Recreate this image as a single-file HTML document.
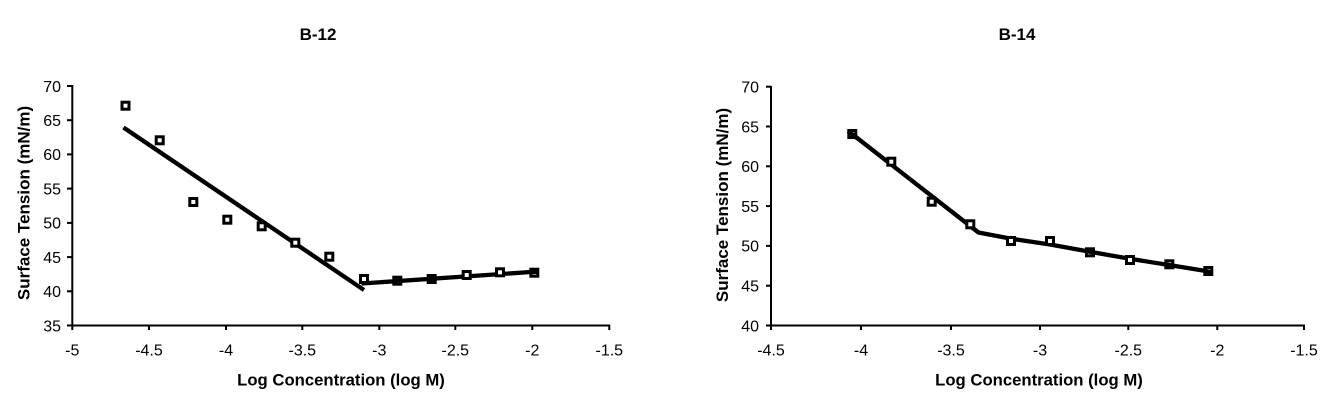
<!DOCTYPE html>
<html>
<head>
<meta charset="utf-8">
<style>
html,body{margin:0;padding:0;background:#fff;}
svg{display:block;}
text{font-family:"Liberation Sans",Arial,sans-serif;fill:#000;}
.tk{font-size:16px;}
.tt{font-size:17px;font-weight:bold;}
.ax{font-size:16.7px;font-weight:bold;}
.ay{font-size:17px;font-weight:bold;}
</style>
</head>
<body>
<svg width="1342" height="403" viewBox="0 0 1342 403" xmlns="http://www.w3.org/2000/svg">
<rect width="1342" height="403" fill="#fff"/>

<!-- ===== LEFT CHART B-12 ===== -->
<text class="tt" x="318" y="40" text-anchor="middle">B-12</text>
<g stroke="#000" stroke-width="2" fill="none">
  <line x1="72.3" y1="85" x2="72.3" y2="326"/>
  <line x1="71.3" y1="325.5" x2="610" y2="325.5"/>
  <line x1="67" y1="86" x2="72" y2="86"/>
  <line x1="67" y1="120.2" x2="72" y2="120.2"/>
  <line x1="67" y1="154.4" x2="72" y2="154.4"/>
  <line x1="67" y1="188.6" x2="72" y2="188.6"/>
  <line x1="67" y1="222.9" x2="72" y2="222.9"/>
  <line x1="67" y1="257.1" x2="72" y2="257.1"/>
  <line x1="67" y1="291.3" x2="72" y2="291.3"/>
  <line x1="67" y1="325.5" x2="72" y2="325.5"/>
  <line x1="72.3" y1="325" x2="72.3" y2="330"/>
  <line x1="149" y1="325" x2="149" y2="330"/>
  <line x1="226" y1="325" x2="226" y2="330"/>
  <line x1="302.3" y1="325" x2="302.3" y2="330"/>
  <line x1="379.3" y1="325" x2="379.3" y2="330"/>
  <line x1="455.3" y1="325" x2="455.3" y2="330"/>
  <line x1="532.3" y1="325" x2="532.3" y2="330"/>
  <line x1="609.3" y1="325" x2="609.3" y2="330"/>
</g>
<g text-anchor="end">
  <text class="tk" x="61" y="91.8">70</text>
  <text class="tk" x="61" y="126">65</text>
  <text class="tk" x="61" y="160.2">60</text>
  <text class="tk" x="61" y="194.4">55</text>
  <text class="tk" x="61" y="228.7">50</text>
  <text class="tk" x="61" y="262.9">45</text>
  <text class="tk" x="61" y="297.1">40</text>
  <text class="tk" x="61" y="331.3">35</text>
</g>
<g text-anchor="middle">
  <text class="tk" x="72.3" y="355.5">-5</text>
  <text class="tk" x="149" y="355.5">-4.5</text>
  <text class="tk" x="226" y="355.5">-4</text>
  <text class="tk" x="302.3" y="355.5">-3.5</text>
  <text class="tk" x="379.3" y="355.5">-3</text>
  <text class="tk" x="455.3" y="355.5">-2.5</text>
  <text class="tk" x="532.3" y="355.5">-2</text>
  <text class="tk" x="609.3" y="355.5">-1.5</text>
</g>
<text class="ax" x="341" y="385.5" text-anchor="middle">Log Concentration (log M)</text>
<text class="ay" transform="translate(29.5,203) rotate(-90)" text-anchor="middle">Surface Tension (mN/m)</text>

<g stroke="#000" stroke-width="4.3" fill="none">
  <line x1="123.5" y1="127.5" x2="364" y2="290"/>
  <line x1="361.5" y1="283.5" x2="538" y2="271.5"/>
</g>
<g stroke="#000" stroke-width="3" fill="#fff">
  <rect x="122" y="102.2" width="7" height="7"/>
  <rect x="156.2" y="136.8" width="7" height="7"/>
  <rect x="189.8" y="198.5" width="7" height="7"/>
  <rect x="223.8" y="216.2" width="7" height="7"/>
  <rect x="258.2" y="222.8" width="7" height="7"/>
  <rect x="291.8" y="239.2" width="7" height="7"/>
  <rect x="325.8" y="253.2" width="7" height="7"/>
  <rect x="360.5" y="275.5" width="7" height="7"/>
  <rect x="393.8" y="277.2" width="7" height="7"/>
  <rect x="428.2" y="275.5" width="7" height="7"/>
  <rect x="463.2" y="271.5" width="7" height="7"/>
  <rect x="496.5" y="268.8" width="7" height="7"/>
  <rect x="530.8" y="269.2" width="7" height="7"/>
</g>

<!-- ===== RIGHT CHART B-14 ===== -->
<text class="tt" x="1017" y="40" text-anchor="middle">B-14</text>
<g stroke="#000" stroke-width="2" fill="none">
  <line x1="771" y1="86" x2="771" y2="326"/>
  <line x1="770" y1="325.5" x2="1305" y2="325.5"/>
  <line x1="766" y1="86.7" x2="771" y2="86.7"/>
  <line x1="766" y1="126.5" x2="771" y2="126.5"/>
  <line x1="766" y1="166.3" x2="771" y2="166.3"/>
  <line x1="766" y1="206.1" x2="771" y2="206.1"/>
  <line x1="766" y1="245.9" x2="771" y2="245.9"/>
  <line x1="766" y1="285.7" x2="771" y2="285.7"/>
  <line x1="766" y1="325.5" x2="771" y2="325.5"/>
  <line x1="771" y1="325" x2="771" y2="330"/>
  <line x1="861" y1="325" x2="861" y2="330"/>
  <line x1="951" y1="325" x2="951" y2="330"/>
  <line x1="1040" y1="325" x2="1040" y2="330"/>
  <line x1="1128.3" y1="325" x2="1128.3" y2="330"/>
  <line x1="1217.3" y1="325" x2="1217.3" y2="330"/>
  <line x1="1304" y1="325" x2="1304" y2="330"/>
</g>
<g text-anchor="end">
  <text class="tk" x="759" y="92.5">70</text>
  <text class="tk" x="759" y="132.3">65</text>
  <text class="tk" x="759" y="172.1">60</text>
  <text class="tk" x="759" y="211.9">55</text>
  <text class="tk" x="759" y="251.7">50</text>
  <text class="tk" x="759" y="291.5">45</text>
  <text class="tk" x="759" y="331.3">40</text>
</g>
<g text-anchor="middle">
  <text class="tk" x="771" y="355.5">-4.5</text>
  <text class="tk" x="861" y="355.5">-4</text>
  <text class="tk" x="951" y="355.5">-3.5</text>
  <text class="tk" x="1040" y="355.5">-3</text>
  <text class="tk" x="1128.3" y="355.5">-2.5</text>
  <text class="tk" x="1217.3" y="355.5">-2</text>
  <text class="tk" x="1304" y="355.5">-1.5</text>
</g>
<text class="ax" x="1039" y="385.5" text-anchor="middle">Log Concentration (log M)</text>
<text class="ay" transform="translate(728,205) rotate(-90)" text-anchor="middle">Surface Tension (mN/m)</text>

<g stroke="#000" stroke-width="4.3" fill="none" stroke-linejoin="round">
  <polyline points="852,134 978.5,232.5 1010,238.5 1050,244.5 1090,251.8 1130,258.8 1169,265 1209,271.5"/>
</g>
<g stroke="#000" stroke-width="3" fill="#fff">
  <rect x="848.8" y="130.5" width="7" height="7"/>
  <rect x="887.8" y="158.2" width="7" height="7"/>
  <rect x="928.2" y="198.2" width="7" height="7"/>
  <rect x="966.8" y="220.8" width="7" height="7"/>
  <rect x="1007.5" y="237.5" width="7" height="7"/>
  <rect x="1046.5" y="237.5" width="7" height="7"/>
  <rect x="1086.5" y="248.8" width="7" height="7"/>
  <rect x="1126.5" y="256.5" width="7" height="7"/>
  <rect x="1165.8" y="260.8" width="7" height="7"/>
  <rect x="1204.8" y="267.5" width="7" height="7"/>
</g>
<g stroke="#000" stroke-width="4.3" fill="none">
  <line x1="848" y1="131" x2="858" y2="138.8"/>
  <line x1="1086" y1="251" x2="1094" y2="252.5"/>
  <line x1="1165" y1="264.3" x2="1173" y2="265.6"/>
  <line x1="1204" y1="270.8" x2="1212" y2="272.2"/>
  <line x1="393" y1="281" x2="401" y2="280.5"/>
  <line x1="428" y1="279.2" x2="436" y2="278.7"/>
  <line x1="531" y1="272.2" x2="538" y2="271.7"/>
</g>
</svg>
</body>
</html>
